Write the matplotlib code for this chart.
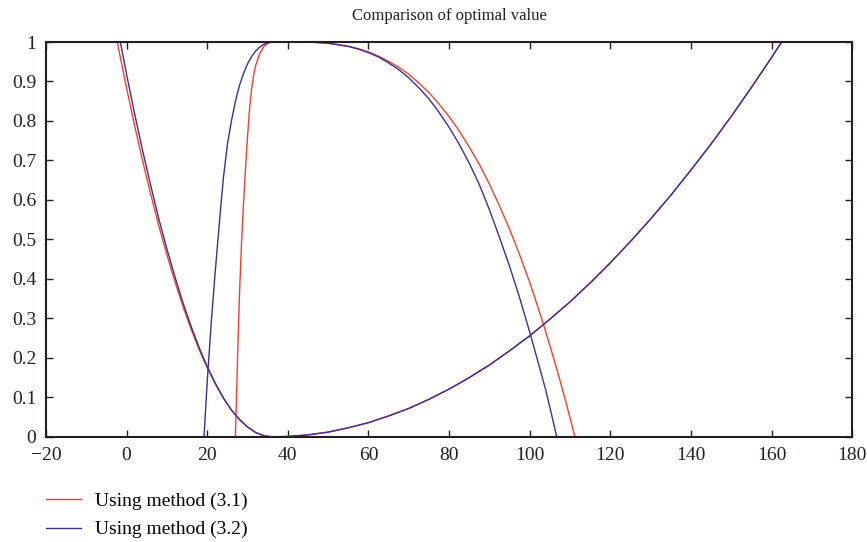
import matplotlib
matplotlib.use("Agg")
import matplotlib.pyplot as plt

# U-shaped curve (same right branch for both methods)
u_x = [-4, -2, 0, 2, 4, 6, 8, 10, 12, 14, 16, 18, 20, 22, 24, 26, 28, 30, 32, 34, 36,
       40, 45, 50, 55, 60, 65, 70, 75, 80, 85, 90, 95, 100, 105, 110, 115, 120, 125,
       130, 135, 140, 145, 150, 155, 160, 163]
u_red = [1.091, 0.984, 0.883, 0.788, 0.698, 0.614, 0.534, 0.461, 0.393, 0.330, 0.273,
         0.221, 0.175, 0.134, 0.098, 0.068, 0.044, 0.025, 0.011, 0.003, 0.0,
         0.001, 0.005, 0.012, 0.023, 0.036, 0.053, 0.072, 0.095, 0.121, 0.150, 0.182,
         0.218, 0.256, 0.298, 0.342, 0.390, 0.441, 0.495, 0.552, 0.612, 0.676, 0.742,
         0.812, 0.885, 0.961, 1.008]
u_blue = [1.140, 1.024, 0.918, 0.818, 0.724, 0.636, 0.552, 0.476, 0.405, 0.339, 0.280,
          0.226, 0.178, 0.136, 0.099, 0.068, 0.044, 0.025, 0.011, 0.003, 0.0,
          0.001, 0.005, 0.012, 0.023, 0.036, 0.053, 0.072, 0.095, 0.121, 0.150, 0.182,
          0.218, 0.256, 0.298, 0.342, 0.390, 0.441, 0.495, 0.552, 0.612, 0.676, 0.742,
          0.812, 0.885, 0.961, 1.008]

# hump-shaped curve
h_red_x = [27.0, 27.5, 28.0, 28.5, 29.0, 29.5, 30.0, 30.5, 31.0, 31.5, 32.0, 33.0, 34.0,
           35.0, 36.0, 40, 45, 47.5, 50, 52.5, 55, 57.5, 60, 62.5, 65, 67.5, 70, 72.5,
           75, 77.5, 80, 82.5, 85, 87.5, 90, 92.5, 95, 97.5, 100, 101.5, 103, 104.5,
           106, 107.5, 109, 110, 111.2]
h_red = [0.0, 0.19, 0.36, 0.49, 0.59, 0.68, 0.76, 0.83, 0.88, 0.915, 0.94, 0.97, 0.988,
         0.997, 1.0, 1.0, 1.0, 0.9985, 0.997, 0.993, 0.989, 0.983, 0.975, 0.964, 0.951,
         0.936, 0.918, 0.896, 0.872, 0.843, 0.811, 0.775, 0.734, 0.690, 0.640, 0.585,
         0.526, 0.461, 0.391, 0.345, 0.298, 0.248, 0.197, 0.143, 0.087, 0.048, 0.0]
h_blue_x = [19.2, 20, 21, 22, 23, 24, 25, 26, 27, 28, 29, 30, 31, 32, 33, 34, 35, 36,
            40, 45, 47.5, 50, 52.5, 55, 57.5, 60, 62.5, 65, 67.5, 70, 72.5, 75, 77.5,
            80, 82.5, 85, 87.5, 90, 92.5, 95, 97.5, 100, 102, 104, 105.5, 106.7]
h_blue = [0.0, 0.14, 0.29, 0.42, 0.54, 0.655, 0.74, 0.80, 0.85, 0.89, 0.92, 0.945, 0.963,
          0.977, 0.987, 0.994, 0.998, 1.0, 1.0, 1.0, 0.9986, 0.997, 0.993, 0.989, 0.982,
          0.973, 0.962, 0.947, 0.930, 0.909, 0.884, 0.856, 0.822, 0.784, 0.741, 0.693,
          0.639, 0.575, 0.505, 0.432, 0.352, 0.265, 0.192, 0.117, 0.053, 0.0]

x_ticks = [-20, 0, 20, 40, 60, 80, 100, 120, 140, 160, 180]
y_ticks = [0, 0.1, 0.2, 0.3, 0.4, 0.5, 0.6, 0.7, 0.8, 0.9, 1]
y_tick_labels = ['0', '0.1', '0.2', '0.3', '0.4', '0.5', '0.6', '0.7', '0.8', '0.9', '1']

RED = '#f0412a'
BLUE = '#3d2e98'
INK = '#231f20'

plt.rcParams['font.family'] = ['Liberation Serif', 'DejaVu Serif']

fig = plt.figure(figsize=(8.67, 5.42), dpi=100)
ax = fig.add_axes([0.053, 0.194, 0.930, 0.7285])

ax.plot(u_x, u_red, color=RED, lw=1.0, label='Using method (3.1)')
ax.plot(h_red_x, h_red, color=RED, lw=1.0)
ax.plot(u_x, u_blue, color=BLUE, lw=1.0, label='Using method (3.2)')
ax.plot(h_blue_x, h_blue, color=BLUE, lw=1.0)

ax.set_xlim(-20, 180)
ax.set_ylim(0, 1)
ax.set_xticks(x_ticks)
ax.set_yticks(y_ticks)
ax.set_yticklabels(y_tick_labels)

for s in ax.spines.values():
    s.set_linewidth(1.5)
    s.set_color(INK)
ax.tick_params(direction='in', length=5, width=1, color=INK, top=True, right=True,
               labelsize=14, labelcolor=INK)
ax.tick_params(axis='x', pad=7)
ax.tick_params(axis='y', pad=7)

ax.set_title('Comparison of optimal value', fontsize=12, color=INK, pad=16)

fig.legend(loc='center left', bbox_to_anchor=(0.053, 0.049), frameon=False,
           fontsize=14, handlelength=1.8, handletextpad=0.7, labelspacing=0.55,
           borderpad=0, borderaxespad=0)

fig.savefig('out.png', dpi=100)
plt.close(fig)
